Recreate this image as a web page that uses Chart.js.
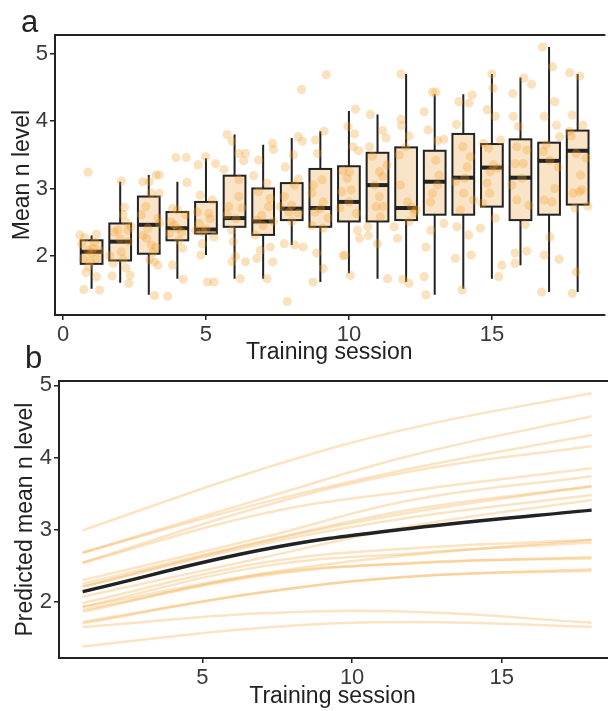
<!DOCTYPE html>
<html>
<head>
<meta charset="utf-8">
<script src="https://cdn.jsdelivr.net/npm/chart.js@4.4.0/dist/chart.umd.min.js"></script>
<style>
  body { margin: 0; background: #fff; width: 608px; height: 711px; position: relative; overflow: hidden;
         font-family: "Liberation Sans", Arial, sans-serif; }
  canvas { position: absolute; left: 0; }
  #chartA { top: 0; }
  #chartB { top: 340px; }
  .tag { position: absolute; font-size: 31px; color: #222; line-height: 1; }
</style>
</head>
<body>
<canvas id="chartA" width="608" height="370"></canvas>
<canvas id="chartB" width="608" height="371"></canvas>
<div class="tag" style="left:21px;top:6px">a</div>
<div class="tag" style="left:25px;top:342px">b</div>
<script>
// ---- panel a: box plots per training session ----
const sessions    = [1, 2, 3, 4, 5, 6, 7, 8, 9, 10, 11, 12, 13, 14, 15, 16, 17, 18];
const whiskerLow  = [1.51, 1.60, 1.42, 1.66, 2.01, 1.66, 1.66, 2.16, 1.61, 1.74, 1.66, 1.61, 1.42, 1.51, 1.66, 1.86, 1.46, 1.46];
const quart1      = [1.88, 1.93, 2.03, 2.23, 2.33, 2.43, 2.31, 2.53, 2.43, 2.51, 2.51, 2.53, 2.61, 2.61, 2.73, 2.53, 2.61, 2.76];
const medians     = [2.06, 2.21, 2.46, 2.41, 2.39, 2.56, 2.51, 2.70, 2.71, 2.80, 3.05, 2.71, 3.10, 3.16, 3.31, 3.16, 3.41, 3.56];
const quart3      = [2.23, 2.48, 2.88, 2.65, 2.80, 3.19, 3.00, 3.08, 3.29, 3.33, 3.53, 3.61, 3.56, 3.81, 3.66, 3.73, 3.68, 3.86];
const whiskerHigh = [2.30, 3.10, 3.20, 3.10, 3.45, 3.80, 3.65, 3.75, 3.85, 4.15, 4.10, 4.70, 4.40, 4.40, 4.70, 4.65, 5.10, 4.70];

// individual participants, jittered: [session + jitter, mean n level]
const sessionPoints = [
  [[0.88,3.24],[0.59,2.31],[0.76,2.27],[1.17,2.32],[0.65,2.18],[1.05,2.11],[1.28,2.08],[0.88,2.08],[0.70,1.96],[1.17,1.96],[0.88,1.84],[0.80,1.75],[1.17,1.69],[0.73,1.50],[1.28,1.49],[1.00,2.05],[0.95,1.92],[1.10,2.20]],
  [[2.04,3.11],[2.15,2.72],[2.10,2.61],[2.38,2.43],[1.92,2.38],[2.27,2.38],[1.63,2.00],[1.75,1.89],[2.04,2.06],[2.20,1.82],[2.35,1.71],[1.72,1.70],[2.30,1.59],[2.30,2.21],[2.00,2.25],[2.20,2.50],[1.80,2.35],[2.10,1.95]],
  [[3.25,3.20],[3.37,3.20],[3.02,3.10],[3.08,2.93],[3.37,2.93],[2.90,2.73],[2.74,2.61],[3.32,2.56],[3.38,2.48],[2.97,2.41],[2.92,2.26],[3.09,2.16],[3.25,2.13],[3.03,1.94],[3.20,1.91],[3.32,1.86],[3.20,1.41],[2.79,3.10],[2.80,2.30],[3.15,2.05]],
  [[3.95,3.46],[4.31,3.46],[4.33,3.09],[3.83,2.70],[4.00,2.68],[4.29,2.61],[3.72,2.33],[3.89,2.46],[4.06,2.23],[4.18,2.11],[3.83,1.86],[4.20,1.65],[3.66,1.40],[4.00,2.40],[3.78,2.50],[4.15,2.35]],
  [[4.99,3.47],[4.73,3.35],[5.34,3.37],[4.80,2.90],[5.22,2.83],[4.70,2.65],[5.10,2.63],[4.76,2.48],[5.28,2.28],[4.87,2.18],[4.82,2.01],[5.05,1.61],[5.28,1.61],[4.64,2.38],[5.00,2.40],[5.15,2.55],[4.90,2.35]],
  [[5.74,3.80],[5.91,3.70],[6.15,3.52],[6.38,3.52],[6.32,3.41],[5.63,3.28],[6.15,3.13],[6.15,2.88],[6.26,2.71],[5.74,2.61],[5.91,2.38],[5.95,2.21],[6.03,1.99],[5.91,1.91],[6.38,1.91],[6.20,1.66],[6.05,2.55],[5.80,2.73]],
  [[7.33,3.67],[7.36,3.58],[6.84,3.42],[7.13,3.08],[6.67,3.19],[6.84,2.95],[7.25,2.85],[7.19,2.73],[6.78,2.53],[7.36,2.51],[6.73,2.31],[7.25,2.13],[6.90,2.08],[6.78,1.96],[7.33,1.91],[7.13,1.66],[7.00,2.45],[6.95,2.60]],
  [[8.34,4.47],[8.23,3.77],[8.37,3.70],[8.06,3.50],[7.77,3.32],[8.23,3.14],[8.10,3.05],[7.74,2.88],[8.00,2.75],[8.23,2.63],[7.60,2.73],[8.00,2.51],[7.74,2.18],[8.10,2.16],[8.40,2.13],[7.84,1.32],[7.90,2.65]],
  [[9.21,4.69],[8.83,3.72],[9.13,3.85],[8.90,3.52],[8.75,3.05],[9.06,3.13],[8.69,2.93],[9.10,2.80],[8.81,2.65],[9.27,2.56],[9.10,2.41],[8.87,2.04],[9.10,1.81],[8.75,1.61],[9.00,2.70],[8.70,2.45]],
  [[10.23,4.18],[9.97,3.92],[10.20,3.81],[10.14,3.62],[10.34,3.56],[9.79,3.26],[10.02,3.25],[9.94,3.15],[9.75,2.95],[10.08,2.98],[10.26,2.63],[9.68,2.71],[10.30,2.38],[10.37,2.26],[9.85,2.01],[9.80,2.00],[10.05,1.71],[10.00,2.80]],
  [[10.75,4.10],[11.18,3.86],[11.30,3.75],[10.72,3.62],[10.82,3.48],[11.33,3.35],[11.07,3.25],[11.18,3.18],[10.95,2.73],[11.20,2.73],[11.07,2.88],[10.66,2.43],[10.68,2.30],[11.00,2.18],[11.35,1.66],[11.10,2.58],[10.90,3.05]],
  [[11.82,4.70],[11.82,4.03],[11.84,3.93],[12.10,3.78],[11.99,3.62],[11.76,3.50],[11.80,3.05],[12.28,2.63],[12.10,2.51],[12.35,2.68],[11.58,2.43],[11.70,2.26],[11.88,1.65],[12.10,1.59],[12.05,2.80],[12.20,2.72]],
  [[12.63,4.14],[12.92,4.43],[13.04,4.43],[12.77,3.87],[13.10,3.71],[13.32,3.73],[13.04,3.42],[13.15,3.20],[12.92,2.93],[13.32,2.48],[12.86,2.38],[12.69,2.13],[12.63,1.69],[12.69,1.42],[13.10,3.05],[12.85,2.80]],
  [[14.31,4.39],[13.84,4.29],[14.20,4.27],[13.76,3.95],[13.98,3.62],[14.25,3.47],[14.14,3.32],[13.72,3.10],[14.01,2.93],[14.36,2.83],[13.90,2.68],[13.78,2.43],[14.19,2.31],[13.72,1.96],[14.27,2.01],[13.96,1.49],[14.60,2.41],[14.05,3.15]],
  [[15.00,4.70],[15.04,4.49],[14.83,4.17],[15.12,4.07],[14.71,3.67],[14.88,3.60],[15.30,3.72],[14.94,3.25],[14.83,3.08],[15.20,3.30],[14.92,2.93],[14.67,2.78],[15.12,2.56],[15.35,1.86],[15.24,1.69],[15.05,3.35]],
  [[16.12,4.64],[16.39,4.55],[15.73,4.41],[15.93,3.92],[15.75,4.07],[15.87,3.62],[16.22,3.57],[15.81,3.37],[16.10,3.37],[15.70,3.05],[15.87,2.83],[16.16,2.46],[15.81,2.04],[16.22,2.07],[15.81,1.89],[16.05,3.15],[16.30,2.75]],
  [[16.77,5.10],[17.12,4.81],[17.20,4.29],[16.83,4.07],[17.26,3.94],[17.37,3.77],[16.80,3.55],[17.03,3.42],[17.32,3.32],[16.83,2.83],[17.10,2.80],[17.03,2.28],[16.83,2.01],[17.35,1.95],[16.74,1.46],[16.90,3.65],[17.20,3.00]],
  [[17.72,4.72],[18.07,4.67],[17.81,4.09],[18.18,3.94],[17.72,3.85],[17.78,3.78],[17.95,3.52],[18.30,3.45],[18.07,2.95],[17.84,2.93],[18.36,2.74],[17.90,2.71],[18.15,2.98],[17.95,1.76],[17.81,1.44],[18.10,3.20]]
];

const ticksAx = [0, 5, 10, 15];
const ticksAy = [2, 3, 4, 5];

// ---- panel b: predicted curves ----
const curveSessions = [1, 7, 12, 18];
const meanCurve = [2.14, 2.72, 3.02, 3.27];
const participantCurves = [
  [2.99, 3.84, 4.41, 4.89],
  [2.68, 3.43, 4.03, 4.57],
  [2.68, 3.37, 3.85, 4.31],
  [2.54, 3.32, 3.81, 4.16],
  [2.54, 3.22, 3.54, 3.85],
  [2.30, 2.89, 3.41, 3.74],
  [2.25, 2.84, 3.28, 3.60],
  [2.21, 2.83, 3.24, 3.60],
  [2.21, 2.80, 3.17, 3.48],
  [2.07, 2.61, 3.05, 3.41],
  [1.98, 2.54, 2.74, 2.86],
  [1.93, 2.49, 2.67, 2.82],
  [1.93, 2.39, 2.65, 2.86],
  [1.89, 2.36, 2.54, 2.60],
  [1.86, 2.38, 2.53, 2.62],
  [1.72, 2.13, 2.35, 2.45],
  [1.70, 2.13, 2.35, 2.43],
  [1.65, 1.84, 1.86, 1.71],
  [1.38, 1.64, 1.72, 1.65]
];
const ticksBx = [5, 10, 15];
const ticksBy = [2, 3, 4, 5];

const ink = '#222222';
const tickFont = { family: '"Liberation Sans", Arial, sans-serif', size: 22 };
const titleFont = { family: '"Liberation Sans", Arial, sans-serif', size: 23 };

// panel frame: top, left and bottom (the right edge falls outside the picture)
const framePlugin = {
  id: 'frame',
  afterDatasetsDraw(chart) {
    const { ctx, chartArea: a } = chart;
    ctx.save();
    ctx.strokeStyle = ink;
    ctx.lineWidth = 2;
    ctx.beginPath();
    ctx.moveTo(a.right + 2, a.top);
    ctx.lineTo(a.left, a.top);
    ctx.lineTo(a.left, a.bottom);
    ctx.lineTo(a.right + 2, a.bottom);
    ctx.stroke();
    ctx.restore();
  }
};

const boxPlugin = {
  id: 'boxes',
  beforeDatasetsDraw(chart) {
    const { ctx, scales: { x, y } } = chart;
    ctx.save();
    ctx.strokeStyle = ink;
    sessions.forEach((s, i) => {
      const l = x.getPixelForValue(s - 0.38), r = x.getPixelForValue(s + 0.38), c = x.getPixelForValue(s);
      const top = y.getPixelForValue(quart3[i]), bot = y.getPixelForValue(quart1[i]);
      // whiskers
      ctx.lineWidth = 2;
      ctx.beginPath();
      ctx.moveTo(c, y.getPixelForValue(whiskerHigh[i])); ctx.lineTo(c, top);
      ctx.moveTo(c, bot); ctx.lineTo(c, y.getPixelForValue(whiskerLow[i]));
      ctx.stroke();
      // box
      ctx.fillStyle = '#fae4c8';
      ctx.fillRect(l, top, r - l, bot - top);
      ctx.strokeRect(l, top, r - l, bot - top);
      // median
      ctx.lineWidth = 4;
      ctx.beginPath();
      const m = y.getPixelForValue(medians[i]);
      ctx.moveTo(l, m); ctx.lineTo(r, m);
      ctx.stroke();
    });
    ctx.restore();
  }
};

function axis(min, max, tickVals, title, fixed, horizontal, titlePad) {
  return {
    type: 'linear', min, max,
    afterBuildTicks: s => { s.ticks = tickVals.map(v => ({ value: v })); },
    afterFit: s => { if (horizontal) s.height = fixed; else s.width = fixed; },
    border: { display: false },
    grid: { drawOnChartArea: false, drawTicks: true, tickLength: 5, color: ink, lineWidth: 1.5 },
    ticks: { color: '#3a3a3a', font: tickFont, padding: 2, maxRotation: 0, autoSkip: false },
    title: { display: true, text: title, color: ink, font: titleFont, padding: titlePad }
  };
}

new Chart(document.getElementById('chartA'), {
  type: 'scatter',
  data: {
    datasets: [{
      data: sessionPoints.flat().map(p => ({ x: p[0], y: p[1] })),
      pointRadius: 4.6,
      pointHoverRadius: 4.6,
      pointBackgroundColor: 'rgba(242,160,40,0.3)',
      pointBorderWidth: 0
    }]
  },
  options: {
    responsive: false,
    animation: false,
    layout: { padding: { top: 35, right: 1, left: 0, bottom: 0 } },
    plugins: { legend: { display: false }, tooltip: { enabled: false } },
    scales: {
      x: axis(-0.28, 18.9, ticksAx, 'Training session', 55, true, { top: 0, bottom: 4 }),
      y: axis(1.12, 5.28, ticksAy, 'Mean n level', 55, false, { top: 9, bottom: 0 })
    }
  },
  plugins: [boxPlugin, framePlugin]
});

const curveSets = participantCurves.map(vals => ({
  data: vals.map((v, i) => ({ x: curveSessions[i], y: v })),
  borderColor: 'rgba(242,165,60,0.3)',
  borderWidth: 2.5,
  pointRadius: 0,
  tension: 0.4,
  order: 1
}));
curveSets.unshift({
  data: meanCurve.map((v, i) => ({ x: curveSessions[i], y: v })),
  borderColor: ink,
  borderWidth: 3.5,
  pointRadius: 0,
  tension: 0.4,
  order: 0
});

new Chart(document.getElementById('chartB'), {
  type: 'line',
  data: { datasets: curveSets },
  options: {
    responsive: false,
    animation: false,
    layout: { padding: { top: 41, right: 2, left: 0, bottom: 0 } },
    plugins: { legend: { display: false }, tooltip: { enabled: false } },
    scales: {
      x: axis(0.21, 18.48, ticksBx, 'Training session', 53, true, { top: 0, bottom: 1 }),
      y: axis(1.22, 5.06, ticksBy, 'Predicted mean n level', 59, false, { top: 12, bottom: 0 })
    }
  },
  plugins: [framePlugin]
});
</script>
</body>
</html>
